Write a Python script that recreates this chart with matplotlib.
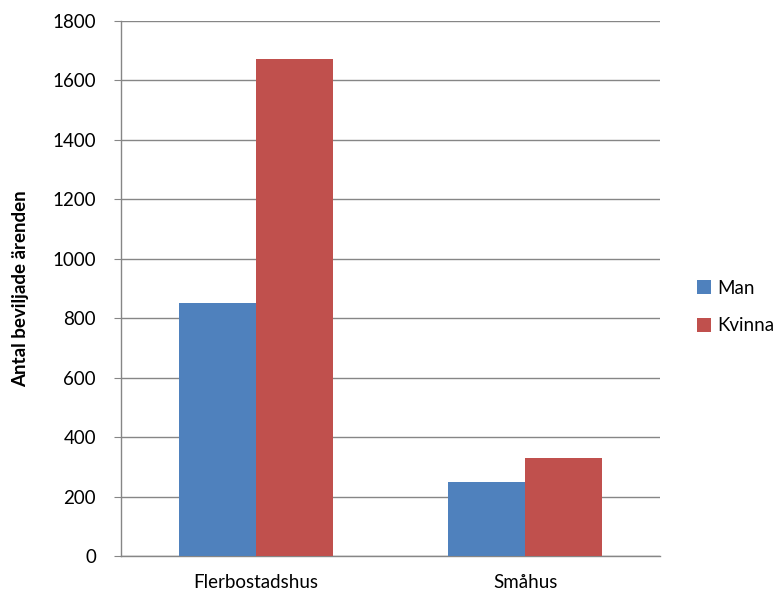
import numpy as np
import matplotlib
matplotlib.use('Agg')
import matplotlib.pyplot as plt

plt.rcParams['font.family'] = ['Lato', 'DejaVu Sans']

categories = ['Flerbostadshus', 'Småhus']
man = [851, 249]
kvinna = [1672, 330]
series_names = ['Man', 'Kvinna']
colors = ['#4F81BD', '#C0504D']
yticks = [0, 200, 400, 600, 800, 1000, 1200, 1400, 1600, 1800]

fs = 13.5

fig = plt.figure(figsize=(7.8, 5.96), dpi=100)
ax = fig.add_axes([0.1551, 0.0671, 0.6911, 0.8977])

x = np.arange(len(categories))
width = 1 / 3.5
b1 = ax.bar(x - width / 2, man, width, color=colors[0], label=series_names[0], zorder=3)
b2 = ax.bar(x + width / 2, kvinna, width, color=colors[1], label=series_names[1], zorder=3)

ax.set_xlim(-0.5, len(categories) - 0.5)
ax.set_ylim(0, 1800)
ax.set_yticks(yticks)
ax.set_xticks(x)
ax.set_xticklabels(categories, fontsize=fs)
ax.tick_params(axis='y', labelsize=fs, length=5, color='#868686', pad=13)
ax.tick_params(axis='x', length=0, pad=13)

ax.grid(axis='y', color='#868686', linewidth=1, zorder=0)
for side in ['top', 'right']:
    ax.spines[side].set_visible(False)
for side in ['left', 'bottom']:
    ax.spines[side].set_color('#868686')
    ax.spines[side].set_linewidth(1)

ax.set_ylabel('Antal beviljade ärenden', fontsize=fs, fontweight='bold', labelpad=17)

fig.legend(handles=[b1, b2], loc='center left', bbox_to_anchor=(0.894, 0.485),
           frameon=False, fontsize=fs, handlelength=0.75, handleheight=0.75,
           handletextpad=0.3, labelspacing=1.1, borderaxespad=0, borderpad=0)

plt.savefig('out.png', dpi=100)
